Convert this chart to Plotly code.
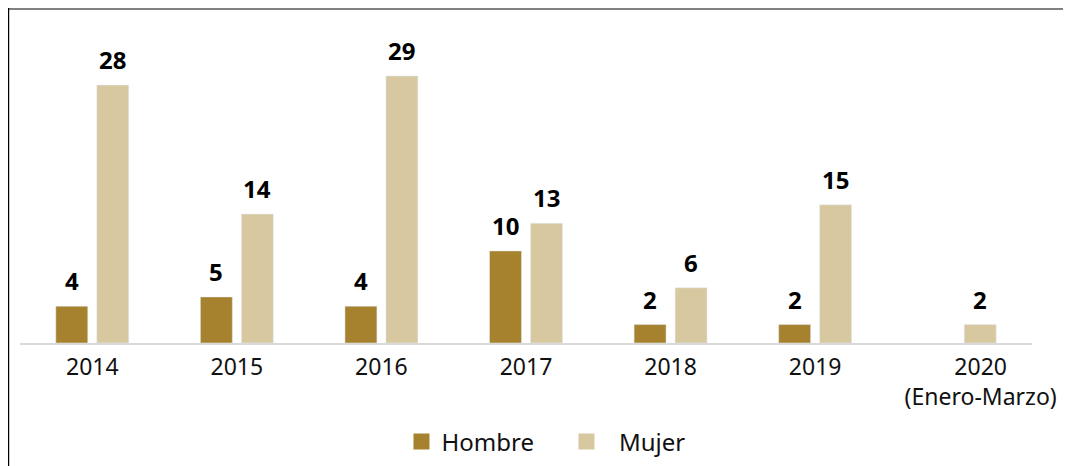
import plotly.graph_objects as go

categories = ["2014", "2015", "2016", "2017", "2018", "2019", "2020<br>(Enero-Marzo)"]
tick_labels = ["2014", "2015", "2016", "2017", "2018", "2019",
               "&nbsp;&nbsp;&nbsp;&nbsp;&nbsp;&nbsp;&nbsp;2020<br>&nbsp;&nbsp;&nbsp;&nbsp;&nbsp;&nbsp;&nbsp;(Enero-Marzo)"]
hombre = [4, 5, 4, 10, 2, 2, None]
mujer = [28, 14, 29, 13, 6, 15, 2]

c_hombre = "#A6822E"
c_mujer = "#D7C8A0"
font_family = "Noto Sans, Open Sans, sans-serif"

fig = go.Figure()
fig.add_trace(go.Bar(x=categories, y=hombre, name="Hombre", marker_color=c_hombre,
                     showlegend=False, hoverinfo="skip"))
fig.add_trace(go.Bar(x=categories, y=mujer, name="Mujer", marker_color=c_mujer,
                     showlegend=False, hoverinfo="skip"))
# legend proxies with larger square swatches
fig.add_trace(go.Scatter(x=[None], y=[None], mode="markers", name="Hombre",
                         marker=dict(symbol="square", size=17, color=c_hombre)))
fig.add_trace(go.Scatter(x=[None], y=[None], mode="markers", name="&nbsp;&nbsp;Mujer",
                         marker=dict(symbol="square", size=17, color=c_mujer)))

annotations = []
for series, shift in ((hombre, -20.5), (mujer, 20.5)):
    for i, v in enumerate(series):
        if v is None:
            continue
        annotations.append(dict(x=i, y=v, xref="x", yref="y", text=f"<b>{v}</b>",
                                showarrow=False, yanchor="bottom", xshift=shift, yshift=7,
                                font=dict(size=24, color="#000000", family=font_family)))

fig.update_layout(
    width=1071, height=466,
    margin=dict(l=12, r=47, t=12, b=131, autoexpand=False),
    paper_bgcolor="white", plot_bgcolor="white",
    barmode="group", bargap=0.433, bargroupgap=0.22,
    font=dict(family=font_family, size=22, color="#111111"),
    annotations=annotations,
    legend=dict(orientation="h", x=0.54, xanchor="center", y=-0.306, yanchor="middle",
                font=dict(size=24, color="#111111"), itemsizing="trace",
                entrywidth=120, entrywidthmode="pixels"),
    shapes=[
        dict(type="line", xref="paper", yref="paper", x0=-0.0119, x1=1.06, y0=1.0341, y1=1.0341,
             line=dict(color="#808080", width=2)),
        dict(type="line", xref="paper", yref="paper", x0=-0.0114, x1=-0.0114, y0=1.0372, y1=-0.45,
             line=dict(color="#000000", width=1.5)),
    ],
)
fig.update_xaxes(type="category", categoryorder="array", categoryarray=categories,
                 range=[-0.5, len(categories) - 0.5], automargin=False,
                 tickmode="array", tickvals=categories, ticktext=tick_labels,
                 showline=True, linecolor="#D9D9D9", linewidth=2, ticks="", showgrid=False,
                 ticklabelstandoff=2,
                 tickfont=dict(size=23, color="#111111"))
fig.update_yaxes(range=[0, 35.07], visible=False, showgrid=False, zeroline=False, automargin=False)

fig.write_html("out.html")
